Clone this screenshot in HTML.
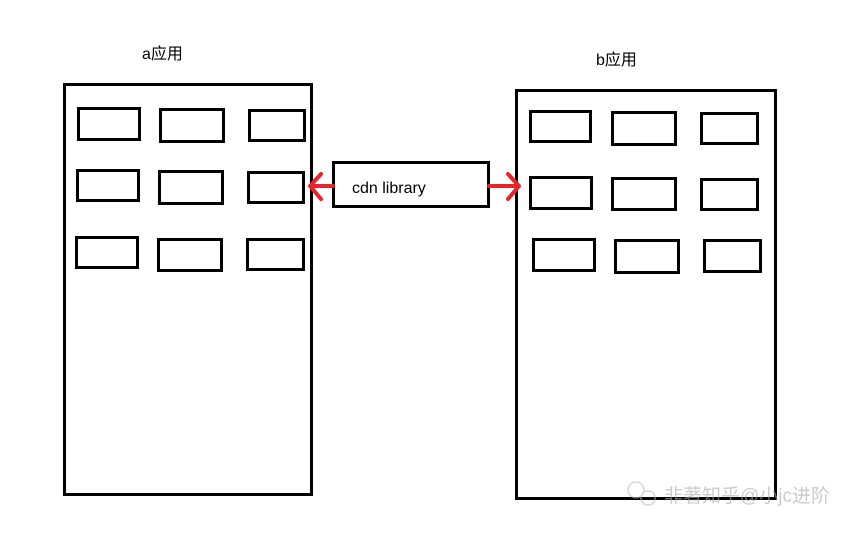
<!DOCTYPE html>
<html><head><meta charset="utf-8"><style>
html,body{margin:0;padding:0;background:#fff}
svg{display:block}
text{font-family:"Liberation Sans","Noto Sans CJK SC",sans-serif}
</style></head><body>
<svg width="856" height="536" viewBox="0 0 856 536">
<g fill="none" stroke="#000" stroke-width="3">
<rect x="64.5" y="84.5" width="247" height="410"/>
<rect x="516.5" y="90.5" width="259" height="408"/>
<rect x="333.5" y="162.5" width="155" height="44"/>
<g>
<rect x="78.5" y="108.5" width="61" height="31"/><rect x="160.5" y="109.5" width="63" height="32"/><rect x="249.5" y="110.5" width="55" height="30"/>
<rect x="77.5" y="170.5" width="61" height="30"/><rect x="159.5" y="171.5" width="63" height="32"/><rect x="248.5" y="172.5" width="55" height="30"/>
<rect x="76.5" y="237.5" width="61" height="30"/><rect x="158.5" y="239.5" width="63" height="31"/><rect x="247.5" y="239.5" width="56" height="30"/>
</g>
<g>
<rect x="530.5" y="111.5" width="60" height="30"/><rect x="612.5" y="112.5" width="63" height="32"/><rect x="701.5" y="113.5" width="56" height="30"/>
<rect x="530.5" y="177.5" width="61" height="31"/><rect x="612.5" y="178.5" width="63" height="31"/><rect x="701.5" y="179.5" width="56" height="30"/>
<rect x="533.5" y="239.5" width="61" height="31"/><rect x="615.5" y="240.5" width="63" height="32"/><rect x="704.5" y="240.5" width="56" height="31"/>
</g>
</g>
<g stroke="#e8232a" stroke-width="4" fill="none" stroke-linecap="round" stroke-linejoin="round">
<path d="M333 186 H311 M321 174 L310 186 L321 199"/>
<path d="M489 186 H518 M508 174 L519 186 L508 199"/>
</g>
<text x="142" y="59" font-size="16" fill="#000">a应用</text>
<text x="596" y="65" font-size="16" fill="#000">b应用</text>
<text x="352" y="193" font-size="16" fill="#000">cdn library</text>
<g opacity="0.6">
<circle cx="636" cy="490" r="8" fill="none" stroke="#bbb" stroke-width="1.5"/>
<circle cx="648" cy="498" r="7" fill="none" stroke="#bbb" stroke-width="1.5"/>
<text x="664" y="502" font-size="19" fill="#aaa">非著知乎@小jc进阶</text>
</g>
</svg>
</body></html>
